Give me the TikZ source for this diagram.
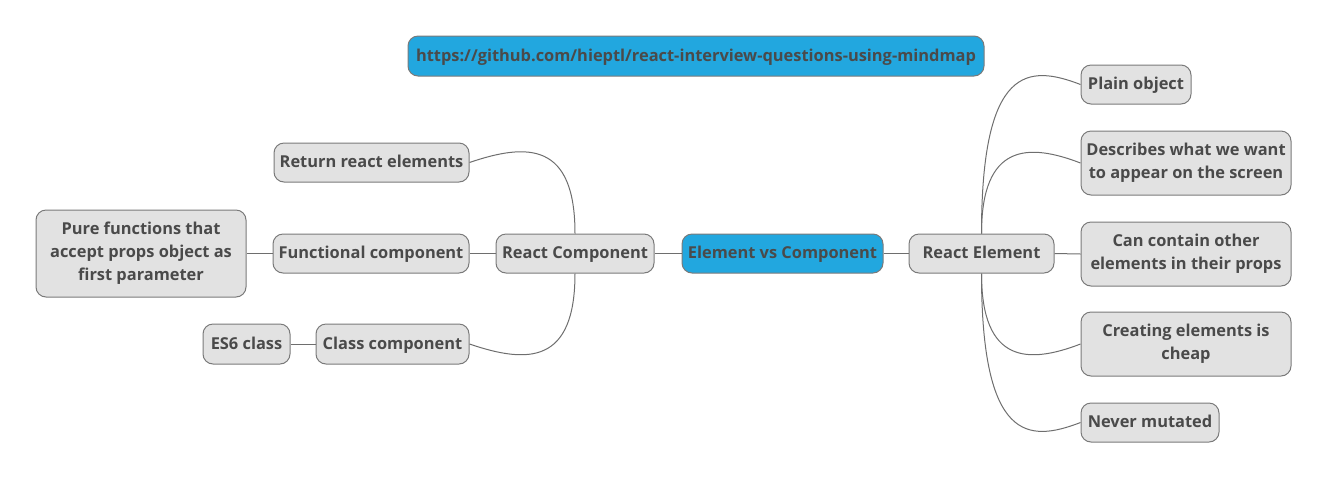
\documentclass[tikz,border=0pt]{standalone}
\usepackage{fontspec}
\setmainfont{Open Sans}
\usetikzlibrary{calc}
\definecolor{boxfill}{HTML}{E2E2E2}
\definecolor{boxline}{HTML}{7A7A7A}
\definecolor{linkline}{HTML}{6E6E6E}
\definecolor{txt}{HTML}{4A4A4A}
\definecolor{bluefill}{HTML}{22A7DF}
\begin{document}
\begin{tikzpicture}[x=0.75pt,y=-0.75pt,
  box/.style 2 args={draw=boxline, fill=boxfill, line width=0.75pt, rounded corners=7.5pt,
    minimum width=#1*0.75pt, minimum height=#2*0.75pt, inner sep=0pt, align=center,
    text=txt, font=\fontsize{12.3pt}{17.3pt}\selectfont\bfseries},
  oneline/.style={text height=9.2pt, text depth=1pt},
  bluebox/.style={fill=bluefill},
  link/.style={draw=linkline, line width=0.75pt}]
\path[use as bounding box] (0,0) rectangle (1329,480);

\node[box={576}{40}, bluebox, oneline] (url) at (696,56) {https://github.com/hieptl/react-interview-questions-using-mindmap};
\node[box={201}{39}, bluebox, oneline] (root) at (782.5,253.5) {Element vs Component};

\node[box={158}{39}, oneline] (rc) at (575,253.5) {React Component};
\node[box={145}{39}, oneline] (re) at (981.5,253.5) {React Element};

\node[box={195}{39}, oneline] (ret) at (371.5,162.5) {Return react elements};
\node[box={196}{39}, oneline] (fc) at (371,253.5) {Functional component};
\node[box={153}{40}, oneline] (cc) at (392.5,344) {Class component};
\node[box={210}{87}] (pure) at (141,253.5) {Pure functions that\\accept props object as\\first parameter};
\node[box={87}{40}, oneline] (es6) at (246.5,344) {ES6 class};

\node[box={110}{39}, oneline] (po) at (1136,84.5) {Plain object};
\node[box={210}{64}] (desc) at (1186,163) {Describes what we want\\to appear on the screen};
\node[box={210}{64}] (cont) at (1186,254) {Can contain other\\elements in their props};
\node[box={210}{64}] (cheap) at (1186,344) {Creating elements is\\cheap};
\node[box={138}{39}, oneline] (never) at (1150,422.5) {Never mutated};

% straight links
\draw[link] (root.west) -- (rc.east);
\draw[link] (root.east) -- (re.west);
\draw[link] (rc.west) -- (fc.east);
\draw[link] (fc.west) -- (pure.east);
\draw[link] (cc.west) -- (es6.east);
\draw[link] (re.east) -- (cont.west);

% curved links, right side
\draw[link] (re.north) .. controls ($(re.north |- po.west)+(0,-20)$) and ($(re.north |- po.west)+(47,-20)$) .. (po.west);
\draw[link] (re.north) .. controls ($(re.north |- desc.west)+(0,-20)$) and ($(re.north |- desc.west)+(47,-20)$) .. (desc.west);
\draw[link] (re.south) .. controls ($(re.south |- cheap.west)+(0,20)$) and ($(re.south |- cheap.west)+(47,20)$) .. (cheap.west);
\draw[link] (re.south) .. controls ($(re.south |- never.west)+(0,20)$) and ($(re.south |- never.west)+(47,20)$) .. (never.west);

% curved links, left side
\draw[link] (rc.north) .. controls ($(rc.north |- ret.east)+(0,-20)$) and ($(rc.north |- ret.east)+(-47,-20)$) .. (ret.east);
\draw[link] (rc.south) .. controls ($(rc.south |- cc.east)+(0,20)$) and ($(rc.south |- cc.east)+(-47,20)$) .. (cc.east);
\end{tikzpicture}
\end{document}
